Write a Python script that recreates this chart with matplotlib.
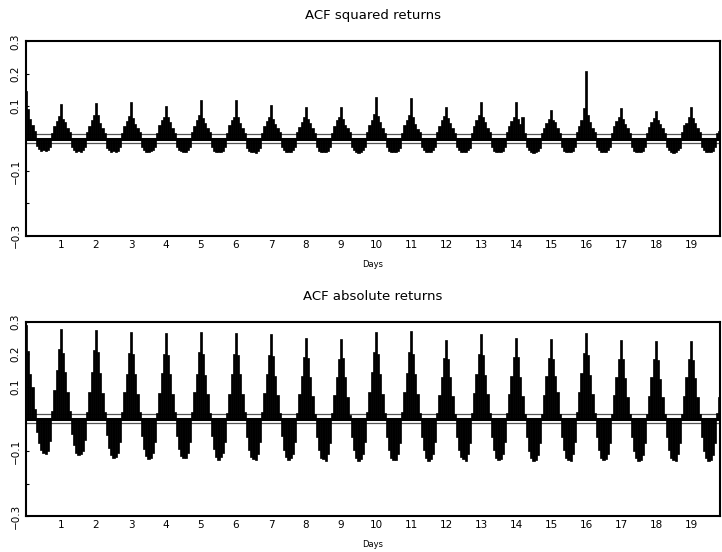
import numpy as np
import matplotlib.pyplot as plt

# ACF values, one row per day, 16 lags per day
# (row d holds lags d, d+1/16, ..., d+15/16)
samples_per_day = 16

sq_acf_days = [
    [0.146, 0.090, 0.062, 0.042, 0.024, -0.024, -0.033, -0.038, -0.036, -0.039, -0.035, -0.026, 0.018, 0.038, 0.054, 0.070],
    [0.108, 0.062, 0.050, 0.034, 0.020, -0.027, -0.035, -0.040, -0.038, -0.041, -0.036, -0.027, 0.020, 0.040, 0.058, 0.074],
    [0.110, 0.072, 0.048, 0.032, 0.018, -0.028, -0.036, -0.041, -0.039, -0.042, -0.037, -0.026, 0.018, 0.038, 0.054, 0.070],
    [0.112, 0.064, 0.046, 0.032, 0.020, -0.027, -0.035, -0.040, -0.041, -0.038, -0.035, -0.026, 0.018, 0.042, 0.058, 0.066],
    [0.100, 0.066, 0.050, 0.032, 0.018, -0.026, -0.036, -0.039, -0.041, -0.040, -0.036, -0.027, 0.020, 0.040, 0.056, 0.072],
    [0.118, 0.064, 0.048, 0.034, 0.020, -0.026, -0.037, -0.042, -0.040, -0.041, -0.038, -0.027, 0.018, 0.042, 0.058, 0.068],
    [0.118, 0.066, 0.048, 0.032, 0.018, -0.028, -0.038, -0.042, -0.041, -0.043, -0.038, -0.028, 0.018, 0.038, 0.054, 0.066],
    [0.103, 0.062, 0.046, 0.032, 0.020, -0.027, -0.036, -0.040, -0.042, -0.040, -0.036, -0.027, 0.020, 0.036, 0.052, 0.066],
    [0.098, 0.062, 0.048, 0.032, 0.018, -0.027, -0.037, -0.041, -0.040, -0.042, -0.037, -0.027, 0.018, 0.038, 0.056, 0.068],
    [0.099, 0.060, 0.042, 0.032, 0.020, -0.027, -0.036, -0.041, -0.043, -0.041, -0.036, -0.026, 0.020, 0.042, 0.058, 0.076],
    [0.130, 0.070, 0.050, 0.032, 0.018, -0.026, -0.037, -0.042, -0.040, -0.042, -0.037, -0.028, 0.018, 0.042, 0.058, 0.074],
    [0.125, 0.066, 0.046, 0.030, 0.020, -0.027, -0.036, -0.040, -0.042, -0.040, -0.036, -0.027, 0.020, 0.038, 0.056, 0.070],
    [0.099, 0.064, 0.048, 0.032, 0.018, -0.026, -0.036, -0.041, -0.040, -0.042, -0.036, -0.028, 0.018, 0.040, 0.056, 0.072],
    [0.113, 0.066, 0.050, 0.032, 0.020, -0.027, -0.037, -0.042, -0.041, -0.040, -0.037, -0.027, 0.020, 0.038, 0.054, 0.068],
    [0.112, 0.060, 0.046, 0.067, 0.018, -0.026, -0.036, -0.041, -0.043, -0.041, -0.037, -0.028, 0.018, 0.034, 0.048, 0.060],
    [0.089, 0.058, 0.050, 0.032, 0.018, -0.027, -0.037, -0.042, -0.040, -0.042, -0.037, -0.027, 0.020, 0.038, 0.056, 0.095],
    [0.208, 0.072, 0.050, 0.032, 0.020, -0.026, -0.036, -0.041, -0.042, -0.040, -0.036, -0.027, 0.018, 0.038, 0.054, 0.068],
    [0.095, 0.060, 0.046, 0.032, 0.018, -0.027, -0.037, -0.041, -0.040, -0.042, -0.037, -0.027, 0.018, 0.036, 0.050, 0.064],
    [0.084, 0.058, 0.044, 0.032, 0.018, -0.026, -0.036, -0.041, -0.043, -0.041, -0.036, -0.028, 0.020, 0.042, 0.048, 0.068],
    [0.098, 0.064, 0.048, 0.032, 0.020, -0.026, -0.036, -0.041, -0.040, -0.042, -0.037, -0.027, 0.016, 0.024],
]

abs_acf_days = [
    [0.290, 0.210, 0.140, 0.098, 0.030, -0.040, -0.075, -0.095, -0.105, -0.107, -0.100, -0.068, 0.025, 0.090, 0.150, 0.215],
    [0.277, 0.205, 0.146, 0.084, 0.024, -0.046, -0.082, -0.104, -0.112, -0.108, -0.098, -0.066, 0.022, 0.084, 0.146, 0.212],
    [0.275, 0.206, 0.142, 0.080, 0.022, -0.050, -0.090, -0.112, -0.122, -0.117, -0.104, -0.070, 0.020, 0.082, 0.140, 0.205],
    [0.268, 0.200, 0.138, 0.078, 0.020, -0.052, -0.092, -0.114, -0.124, -0.120, -0.106, -0.072, 0.018, 0.080, 0.142, 0.202],
    [0.265, 0.198, 0.140, 0.076, 0.020, -0.054, -0.094, -0.116, -0.121, -0.122, -0.104, -0.070, 0.020, 0.082, 0.140, 0.206],
    [0.270, 0.202, 0.136, 0.078, 0.018, -0.052, -0.094, -0.117, -0.126, -0.119, -0.106, -0.072, 0.018, 0.078, 0.138, 0.200],
    [0.265, 0.196, 0.140, 0.076, 0.020, -0.055, -0.096, -0.118, -0.124, -0.127, -0.108, -0.072, 0.020, 0.080, 0.140, 0.198],
    [0.262, 0.194, 0.134, 0.074, 0.018, -0.054, -0.095, -0.119, -0.128, -0.122, -0.107, -0.071, 0.018, 0.076, 0.132, 0.190],
    [0.250, 0.188, 0.130, 0.072, 0.016, -0.056, -0.097, -0.120, -0.125, -0.129, -0.109, -0.073, 0.018, 0.074, 0.130, 0.186],
    [0.246, 0.188, 0.128, 0.069, 0.012, -0.055, -0.096, -0.121, -0.130, -0.124, -0.108, -0.072, 0.020, 0.082, 0.144, 0.208],
    [0.270, 0.200, 0.138, 0.076, 0.018, -0.056, -0.097, -0.120, -0.126, -0.128, -0.109, -0.073, 0.020, 0.082, 0.142, 0.206],
    [0.272, 0.202, 0.138, 0.078, 0.018, -0.055, -0.096, -0.121, -0.129, -0.123, -0.108, -0.072, 0.018, 0.074, 0.130, 0.188],
    [0.244, 0.186, 0.128, 0.070, 0.014, -0.056, -0.097, -0.119, -0.125, -0.129, -0.109, -0.073, 0.018, 0.080, 0.140, 0.200],
    [0.263, 0.196, 0.136, 0.076, 0.018, -0.055, -0.097, -0.121, -0.127, -0.124, -0.108, -0.072, 0.018, 0.076, 0.134, 0.190],
    [0.250, 0.190, 0.130, 0.072, 0.016, -0.056, -0.098, -0.122, -0.130, -0.126, -0.110, -0.073, 0.016, 0.074, 0.132, 0.188],
    [0.247, 0.186, 0.134, 0.082, 0.016, -0.055, -0.096, -0.120, -0.126, -0.129, -0.109, -0.072, 0.020, 0.082, 0.142, 0.204],
    [0.265, 0.198, 0.136, 0.076, 0.018, -0.056, -0.097, -0.121, -0.128, -0.124, -0.108, -0.073, 0.016, 0.074, 0.130, 0.186],
    [0.244, 0.184, 0.126, 0.068, 0.014, -0.056, -0.098, -0.121, -0.131, -0.126, -0.110, -0.074, 0.016, 0.072, 0.128, 0.184],
    [0.241, 0.182, 0.124, 0.068, 0.014, -0.055, -0.097, -0.120, -0.126, -0.129, -0.109, -0.073, 0.016, 0.072, 0.128, 0.186],
    [0.242, 0.182, 0.126, 0.068, 0.014, -0.056, -0.098, -0.122, -0.131, -0.127, -0.110, -0.074, 0.018, 0.068],
]

conf_band = 0.014
day_ticks = list(range(1, 20))
y_ticks = [0.3, 0.2, 0.1, -0.1, -0.2, -0.3]
y_labels = ['0.3', '0.2', '0.1', '\u22120.1', '', '\u22120.3']

fig = plt.figure(figsize=(7.22, 5.52), dpi=100)
ax_top = fig.add_axes([26/722, 1 - 235.7/552, 694/722, 194.2/552])
ax_bot = fig.add_axes([26/722, 1 - 516/552, 694/722, 194.2/552])

panels = [(ax_top, sq_acf_days, 'ACF squared returns'),
          (ax_bot, abs_acf_days, 'ACF absolute returns')]

for ax, rows, title in panels:
    acf = np.concatenate([np.array(r) for r in rows])
    lags = np.arange(len(acf)) / samples_per_day

    # confidence bands and zero line sit under the bars
    ax.axhline(conf_band, color='#555555', lw=0.9, zorder=1)
    ax.axhline(-conf_band, color='#555555', lw=0.9, zorder=1)
    ax.axhline(0, color='black', lw=2.2, zorder=1)
    ax.bar(lags, acf, width=1/samples_per_day, color='black',
           edgecolor='black', linewidth=0.5, zorder=2)

    ax.set_xlim(0, 19.83)
    ax.set_ylim(-0.3, 0.3)
    ax.set_xticks(day_ticks)
    ax.set_xticklabels([str(d) for d in day_ticks], fontsize=7.5)
    ax.set_yticks(y_ticks)
    ax.set_yticklabels(y_labels, fontsize=7.5, rotation=90, va='center')
    ax.tick_params(axis='x', length=0, pad=3)
    ax.tick_params(axis='y', direction='in', length=2.5, width=0.8, pad=4)
    for sp in ax.spines.values():
        sp.set_linewidth(1.5)

    ax.set_title(title, fontsize=9.5, pad=16)
    ax.set_xlabel('Days', fontsize=6, labelpad=7)

fig.savefig('out.png', dpi=100)
